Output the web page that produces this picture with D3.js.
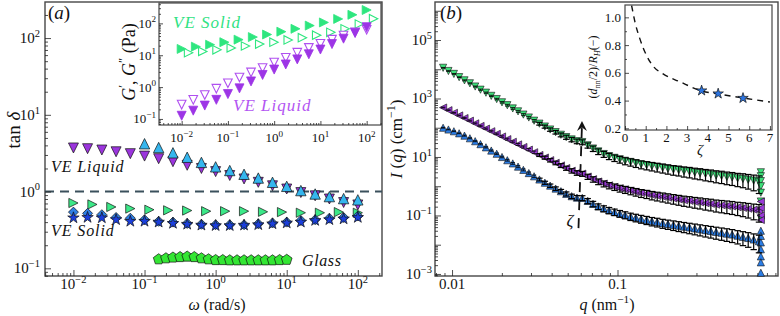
<!DOCTYPE html>
<html><head><meta charset="utf-8">
<script src="https://cdn.jsdelivr.net/npm/d3@7/dist/d3.min.js"></script>
<style>html,body{margin:0;background:#fff}svg{display:block}svg text{font-family:"Liberation Serif","Times New Roman",serif !important;fill:#111}</style>
</head><body><svg id="c" width="780" height="316" font-family="Liberation Serif, serif"></svg>
<script>
// ---------------- Panel (a): tan delta vs omega ----------------
const omegaA=[0.01,0.0158,0.0251,0.0398,0.0631,0.1,0.158,0.251,0.398,0.631,1,1.58,2.51,3.98,6.31,10,15.8,25.1,39.8,63.1,100];
const tanLiquidPurple=[3.7,3.62,3.48,3.3,3.12,2.9,2.68,2.45,2.2,2.0,1.82,1.62,1.46,1.32,1.19,1.08,0.97,0.88,0.8,0.72,0.67];
const omegaCyan=[0.1,0.158,0.251,0.398,0.631,1,1.58,2.51,3.98,6.31,10,15.8,25.1,39.8,63.1,100];
const tanLiquidCyan=[4.2,3.75,3.2,2.8,2.4,2.1,1.88,1.68,1.5,1.32,1.17,1.03,0.93,0.86,0.81,0.78];
const omegaGreen=[0.01,0.0185,0.0341,0.0631,0.117,0.215,0.398,0.736,1.36,2.51,4.64,8.58,15.8,29.3,54.1,100];
const tanSolidGreen=[0.71,0.68,0.63,0.60,0.58,0.57,0.566,0.555,0.555,0.555,0.545,0.54,0.53,0.53,0.54,0.53];
const tanSolidDiamond=[0.54,0.52,0.50,0.46,0.45,0.43,0.41,0.40,0.385,0.375,0.37,0.37,0.37,0.38,0.39,0.40,0.42,0.43,0.45,0.46,0.48];
const tanSolidStar=[0.455,0.46,0.455,0.43,0.41,0.41,0.40,0.385,0.375,0.365,0.36,0.36,0.365,0.37,0.38,0.39,0.40,0.42,0.43,0.44,0.46];
const omegaGlass=[0.158,0.2,0.251,0.316,0.398,0.501,0.631,0.794,1,1.26,1.58,2,2.51,3.16,3.98,5.01,6.31,7.94,10];
const tanGlass=[0.131,0.135,0.138,0.140,0.142,0.140,0.135,0.131,0.128,0.128,0.127,0.127,0.127,0.127,0.127,0.127,0.127,0.128,0.129];

// ---------------- Inset (a): G', G'' ----------------
const omegaInLiquid=[0.01,0.0178,0.0316,0.0562,0.1,0.178,0.316,0.562,1,1.78,3.16,5.62,10,17.8,31.6,56.2,100];
const gppLiquid=[0.282,0.398,0.562,0.891,1.32,2.0,2.88,3.98,5.89,8.32,12.0,17.0,22.9,30.9,41.7,52.5,63.1];
const gpLiquid=[0.126,0.182,0.263,0.398,0.603,0.912,1.51,2.40,3.55,5.13,7.41,10.7,15.1,22.4,33.1,50.1,75.9];
const omegaInSolid=[0.01,0.0203,0.0412,0.0838,0.170,0.346,0.702,1.43,2.89,5.88,11.9,24.2,49.2,100];
const gpSolid=[15.8,18.6,21.4,25.7,30.9,37.2,44.7,55.0,67.6,85.1,107,138,186,263];
const omegaInSolidOpen=[0.0141,0.0286,0.0581,0.118,0.240,0.487,0.990,2.01,4.08,8.29,16.8,34.2,69.5,141];
const gppSolid=[12.0,13.2,14.8,17.0,19.5,22.4,25.7,30.2,35.5,42.7,52.5,67.6,95.5,141];

// ---------------- Panel (b): SAXS I(q) ----------------
const qGrid=[0.00883,0.00951,0.01026,0.01104,0.01189,0.01282,0.01380,0.01486,0.01603,0.01726,0.01862,0.02004,0.02158,0.02328,0.02506,0.02698,0.02911,0.03133,0.03373,0.03639,0.03917,0.04227,0.04550,0.04898,0.05284,0.05689,0.06124,0.06607,0.07112,0.07656,0.08260,0.08892,0.09594,0.1033,0.1112,0.1200,0.1291,0.1390,0.1500,0.1614,0.1738,0.1875,0.2018,0.2178,0.2344,0.2523,0.2723,0.2931,0.3155,0.3404,0.3664,0.3945,0.4256,0.4581,0.4932,0.5321,0.5728,0.6166,0.6653,0.7161];
const iGreen=[11200,8710,6920,5370,4170,3310,2570,2000,1580,1230,955,741,589,457,363,282,224,174,138,110,87.1,70.8,57.5,47.9,39.8,34.7,32.4,25.1,19.5,15.5,12.6,10.7,9.33,8.32,7.41,6.76,6.17,5.62,5.25,4.90,4.57,4.27,3.98,3.72,3.55,3.31,3.16,2.95,2.82,2.63,2.51,2.34,2.24,2.09,2.00,1.86,1.78,1.66,1.55,1.41];
const iPurple=[490,398,324,263,214,174,141,115,93.3,75.9,61.7,50.1,40.7,33.1,26.9,21.9,17.8,14.5,11.7,9.55,7.76,6.31,5.13,4.17,3.39,2.88,2.69,2.14,1.74,1.45,1.23,1.07,0.955,0.851,0.776,0.708,0.646,0.589,0.550,0.501,0.468,0.437,0.407,0.380,0.355,0.331,0.316,0.295,0.282,0.263,0.251,0.234,0.224,0.214,0.204,0.191,0.182,0.170,0.158,0.148];
const iBlue=[100,87.1,75.9,64.6,53.7,43.7,34.7,27.5,21.4,16.6,12.9,10.0,7.76,6.03,4.68,3.63,2.82,2.19,1.70,1.32,1.05,0.832,0.676,0.550,0.457,0.407,0.398,0.316,0.251,0.204,0.174,0.151,0.132,0.117,0.105,0.0933,0.0851,0.0776,0.0708,0.0646,0.0603,0.0550,0.0513,0.0479,0.0447,0.0417,0.0389,0.0363,0.0339,0.0316,0.0295,0.0275,0.0257,0.0240,0.0224,0.0204,0.0186,0.0170,0.0151,0.0132];
const relErr=[0.03,0.03,0.03,0.03,0.04,0.04,0.04,0.05,0.05,0.05,0.06,0.06,0.07,0.07,0.08,0.08,0.09,0.10,0.11,0.12,0.13,0.14,0.15,0.16,0.17,0.18,0.19,0.20,0.21,0.22,0.23,0.24,0.25,0.26,0.27,0.28,0.29,0.30,0.31,0.32,0.33,0.34,0.35,0.36,0.37,0.38,0.39,0.40,0.41,0.42,0.43,0.44,0.45,0.46,0.47,0.48,0.50,0.52,0.55,0.60];
const qEnd=0.735;
const iGreenEnd=[3.0,2.2,1.5,1.0,0.6,0.3,0.08];
const iPurpleEnd=[0.3,0.18,0.1,0.07];
const iBlueEnd=[0.03,0.02,0.012,0.007,0.004,0.0025,0.0011];
const arrowQ=[0.0581,0.0610];
const arrowI=[0.037,170];

// ---------------- Inset (b) ----------------
const zetaCurve=[0.32,0.48,0.72,1.05,1.35,1.84,2.66,3.7,4.49,5.7,7.0];
const ratioCurve=[1.085,0.967,0.845,0.722,0.65,0.592,0.535,0.47,0.448,0.419,0.39];
const zetaPts=[3.7,4.5,5.7];
const ratioPts=[0.472,0.450,0.418];

// ================= drawing =================
const svg=d3.select("#c");
svg.append("rect").attr("width",780).attr("height",316).attr("fill","#fff");

function logTickVals(d){
  const maj=[],min=[];
  const a=Math.floor(Math.log10(d[0])),b=Math.ceil(Math.log10(d[1]));
  for(let e=a;e<=b;e++)for(let m=1;m<10;m++){const v=m*Math.pow(10,e);if(v>=d[0]*0.999&&v<=d[1]*1.001)(m===1?maj:min).push(v);}
  return {maj,min};
}
function rich(sel,fs,parts){
  let cur=0;
  parts.forEach(p=>{
    const off=p.sup?-0.42*fs:p.sub?0.28*fs:0;
    const t=sel.append("tspan").attr("dy",off-cur).text(p.t);
    if(p.sup||p.sub)t.attr("font-size",fs*0.7);
    if(p.i)t.attr("font-style","italic");
    cur=off;
  });
}
const tri=(dir,s)=>{
  if(dir==="up")return `M0,${-s}L${s},${s}L${-s},${s}Z`;
  if(dir==="down")return `M0,${s}L${s},${-s}L${-s},${-s}Z`;
  if(dir==="right")return `M${s},0L${-s},${s}L${-s},${-s}Z`;
  return `M${-s},0L${s},${s}L${s},${-s}Z`;
};
const diamond=s=>`M0,${-s}L${s},0L0,${s}L${-s},0Z`;
const star=R=>{let p="";for(let k=0;k<10;k++){const r=k%2?R*0.382:R;const a=-Math.PI/2+k*Math.PI/5;p+=(k?"L":"M")+(r*Math.cos(a)).toFixed(2)+","+(r*Math.sin(a)).toFixed(2);}return p+"Z";};
const pent=R=>{let p="";for(let k=0;k<5;k++){const a=-Math.PI/2+k*2*Math.PI/5;p+=(k?"L":"M")+(R*Math.cos(a)).toFixed(2)+","+(R*Math.sin(a)).toFixed(2);}return p+"Z";};

function scatter(g,xs,ys,sx,sy,path,fill,stroke,sw){
  g.append("g").selectAll("path").data(xs.map((x,i)=>[x,ys[i]])).join("path")
   .attr("d",path).attr("transform",d=>`translate(${sx(d[0])},${sy(d[1])})`)
   .attr("fill",fill).attr("stroke",stroke).attr("stroke-width",sw).attr("stroke-linejoin","miter");
}
function frame(g,sx,sy,fill,sw){
  const [x0,x1]=sx.range(),[y1,y0]=sy.range();
  g.append("rect").attr("x",x0).attr("y",y0).attr("width",x1-x0).attr("height",y1-y0)
   .attr("fill",fill||"none").attr("stroke","#474747").attr("stroke-width",sw||1.4);
}
function axisTicks(g,scale,orient,pos,vals,len){
  const ax=orient==="left"?d3.axisLeft(scale):d3.axisBottom(scale);
  const gg=g.append("g").attr("transform",orient==="left"?`translate(${pos},0)`:`translate(0,${pos})`)
    .call(ax.tickValues(vals).tickSize(-len).tickFormat(""));
  gg.select(".domain").remove();
  gg.selectAll(".tick line").attr("stroke","#222").attr("stroke-width",0.8);
}
function powLabel(g,x,y,exp,fs,anchor){
  const t=g.append("text").attr("x",x).attr("y",y).attr("font-size",fs).attr("text-anchor",anchor);
  rich(t,fs,[{t:"10"},{t:(exp<0?"\u2212":"")+Math.abs(exp),sup:true}]);
}

// ---- Panel (a)
const gA=svg.append("g");
const xA=d3.scaleLog().domain([10**-2.4,10**2.34]).range([45,382]);
const yA=d3.scaleLog().domain([10**-1.1,10**2.47]).range([276,2]);
frame(gA,xA,yA,"#fff");
gA.append("line").attr("x1",xA.range()[0]).attr("x2",xA.range()[1]).attr("y1",yA(1)).attr("y2",yA(1))
  .attr("stroke","#3b505c").attr("stroke-width",2).attr("stroke-dasharray","9,6");
scatter(gA,omegaA,tanLiquidPurple,xA,yA,tri("down",5),"#9b35dd","#111",0.7);
scatter(gA,omegaCyan,tanLiquidCyan,xA,yA,tri("up",5.2),"#35b6ee","#111",0.7);
scatter(gA,omegaGreen,tanSolidGreen,xA,yA,tri("right",4.6),"#3ce888","#111",0.7);
scatter(gA,omegaA,tanSolidDiamond,xA,yA,diamond(5),"#2f80e6","#111",0.7);
scatter(gA,omegaA,tanSolidStar,xA,yA,star(6),"#1b3fdc","#111",0.7);
scatter(gA,omegaGlass,tanGlass,xA,yA,pent(5.6),"#33e633","#111",0.7);
let tv=logTickVals(xA.domain());
axisTicks(gA,xA,"bottom",yA.range()[0],tv.min,3);
axisTicks(gA,xA,"bottom",yA.range()[0],tv.maj,6);
tv.maj.forEach(v=>powLabel(gA,xA(v),289,Math.round(Math.log10(v)),15,"middle"));
tv=logTickVals(yA.domain());
axisTicks(gA,yA,"left",xA.range()[0],tv.min,3);
axisTicks(gA,yA,"left",xA.range()[0],tv.maj,6);
tv.maj.forEach(v=>powLabel(gA,40,yA(v)+5,Math.round(Math.log10(v)),15,"end"));
// labels
let t=gA.append("text").attr("x",217).attr("y",310).attr("font-size",16).attr("text-anchor","middle");
rich(t,16,[{t:"\u03c9",i:true},{t:" (rad/s)"}]);
t=gA.append("text").attr("transform","translate(20,130) rotate(-90)").attr("font-size",19).attr("text-anchor","middle");
rich(t,19,[{t:"tan "},{t:"\u03b4",i:true}]);
t=gA.append("text").attr("x",48).attr("y",19).attr("font-size",19);
rich(t,19,[{t:"("},{t:"a",i:true},{t:")"}]);
gA.append("text").attr("x",51).attr("y",172).attr("font-size",16).attr("font-style","italic").attr("letter-spacing",0.9).text("VE Liquid");
gA.append("text").attr("x",51).attr("y",236).attr("font-size",16).attr("font-style","italic").attr("letter-spacing",0.9).text("VE Solid");
gA.append("text").attr("x",302).attr("y",266).attr("font-size",16).attr("font-style","italic").attr("letter-spacing",0.6).text("Glass");

// ---- Inset (a)
const gI=svg.append("g");
const xI=d3.scaleLog().domain([10**-2.49,10**2.31]).range([159,381]);
const yI=d3.scaleLog().domain([10**-1.19,10**2.64]).range([125,3]);
frame(gI,xI,yI,"#fff",1.2);
scatter(gI,omegaInSolid,gpSolid,xI,yI,tri("right",4.5),"#2ee67f","#2ee67f",0.8);
scatter(gI,omegaInSolidOpen,gppSolid,xI,yI,tri("right",4.2),"#fff","#2ee67f",1.1);
scatter(gI,omegaInLiquid,gppLiquid,xI,yI,tri("down",4.3),"#fff","#b050f0",1.1);
scatter(gI,omegaInLiquid,gpLiquid,xI,yI,tri("down",4.5),"#9d35e6","#9d35e6",0.8);
tv=logTickVals(xI.domain());
axisTicks(gI,xI,"bottom",yI.range()[0],tv.min,2);
axisTicks(gI,xI,"bottom",yI.range()[0],tv.maj,4);
tv.maj.forEach(v=>powLabel(gI,xI(v),142,Math.round(Math.log10(v)),13,"middle"));
tv=logTickVals(yI.domain());
axisTicks(gI,yI,"left",xI.range()[0],tv.min,2);
axisTicks(gI,yI,"left",xI.range()[0],tv.maj,4);
tv.maj.forEach(v=>powLabel(gI,156,yI(v)+4.5,Math.round(Math.log10(v)),13,"end"));
t=gI.append("text").attr("transform","translate(135,62) rotate(-90)").attr("font-size",18).attr("text-anchor","middle");
rich(t,18,[{t:"G",i:true},{t:"\u2032",sup:true},{t:", "},{t:"G",i:true},{t:"\u2033",sup:true},{t:" (Pa)"}]);
gI.append("text").attr("x",173).attr("y",28).attr("font-size",17).attr("font-style","italic").attr("letter-spacing",1).style("fill","#30e283").text("VE Solid");
gI.append("text").attr("x",233).attr("y",111).attr("font-size",17).attr("font-style","italic").attr("letter-spacing",1).style("fill","#b355f2").text("VE Liquid");

// ---- Panel (b)
const gB=svg.append("g");
const xB=d3.scaleLog().domain([10**-2.103,10**-0.03]).range([435,778]);
const yB=d3.scaleLog().domain([10**-3.07,10**6.3]).range([276,2]);
frame(gB,xB,yB,"#fff");
gB.append("line").attr("x1",xB(arrowQ[0])).attr("y1",yB(arrowI[0])).attr("x2",xB(arrowQ[1])).attr("y2",yB(arrowI[1])+4)
  .attr("stroke","#111").attr("stroke-width",1.8).attr("stroke-dasharray","10,8");
{
  const ax=xB(arrowQ[1]),ay=yB(arrowI[1]);
  gB.append("path").attr("d",`M${ax},${ay}L${ax+5},${ay+10}L${ax},${ay+6.5}L${ax-5},${ay+10}Z`).attr("fill","#111");
}
function saxs(I,Iend,path,fill){
  const g=gB.append("g");
  scatter(g,qGrid,I,xB,yB,path,fill,"#111",0.6);
  scatter(g,Iend.map(()=>qEnd),Iend,xB,yB,path,fill,"#111",0.6);
  const eb=g.append("g").attr("stroke","#000");
  qGrid.forEach((q,i)=>{
    const x=xB(q),ylo=yB(I[i]*(1-relErr[i])),yhi=yB(I[i]*(1+relErr[i]));
    const w=i<18?0.8:1.2,c=i<18?2.2:3.2;
    eb.append("line").attr("stroke-width",w).attr("x1",x).attr("x2",x).attr("y1",ylo).attr("y2",yhi);
    eb.append("line").attr("stroke-width",w).attr("x1",x-c).attr("x2",x+c).attr("y1",ylo).attr("y2",ylo);
    eb.append("line").attr("stroke-width",w).attr("x1",x-c).attr("x2",x+c).attr("y1",yhi).attr("y2",yhi);
  });
}
saxs(iGreen,iGreenEnd,tri("down",3.6),"#3ee07a");
saxs(iPurple,iPurpleEnd,tri("left",3.6),"#9a3ad8");
saxs(iBlue,iBlueEnd,tri("up",3.6),"#2b7de6");
tv=logTickVals(xB.domain());
axisTicks(gB,xB,"bottom",yB.range()[0],tv.min,3);
axisTicks(gB,xB,"bottom",yB.range()[0],tv.maj,6);
tv.maj.forEach(v=>gB.append("text").attr("x",xB(v)).attr("y",289).attr("font-size",15).attr("text-anchor","middle").text(v===0.01?"0.01":"0.1"));
tv=logTickVals(yB.domain());
axisTicks(gB,yB,"left",xB.range()[0],tv.min,3);
axisTicks(gB,yB,"left",xB.range()[0],tv.maj,6);
tv.maj.forEach(v=>{const e=Math.round(Math.log10(v));if(Math.abs(e)%2===1)powLabel(gB,432,yB(v)+5,e,15,"end");});
t=gB.append("text").attr("x",607).attr("y",310).attr("font-size",16).attr("text-anchor","middle");
rich(t,16,[{t:"q",i:true},{t:" (nm"},{t:"\u22121",sup:true},{t:")"}]);
t=gB.append("text").attr("transform","translate(402,139) rotate(-90)").attr("font-size",17).attr("text-anchor","middle");
rich(t,17,[{t:"I",i:true},{t:" ("},{t:"q",i:true},{t:") (cm"},{t:"\u22121",sup:true},{t:")"}]);
t=gB.append("text").attr("x",440).attr("y",19).attr("font-size",19);
rich(t,19,[{t:"("},{t:"b",i:true},{t:")"}]);
gB.append("text").attr("x",570).attr("y",226).attr("font-size",17).attr("font-style","italic").attr("text-anchor","middle").text("\u03b6");

// ---- Inset (b)
const gC=svg.append("g");
const xC=d3.scaleLinear().domain([0,7.1]).range([625,772]);
const yC=d3.scaleLinear().domain([0.188,1.089]).range([130,5]);
frame(gC,xC,yC,"#fff",1.2);
axisTicks(gC,xC,"bottom",yC.range()[0],[0.5,1.5,2.5,3.5,4.5,5.5,6.5],2);
axisTicks(gC,xC,"bottom",yC.range()[0],[0,1,2,3,4,5,6,7],4);
[0,1,2,3,4,5,6,7].forEach(v=>gC.append("text").attr("x",xC(v)).attr("y",142).attr("font-size",13).attr("text-anchor","middle").text(v));
axisTicks(gC,yC,"left",xC.range()[0],[0.3,0.5,0.7,0.9],2);
axisTicks(gC,yC,"left",xC.range()[0],[0.2,0.4,0.6,0.8,1.0],4);
[0.2,0.4,0.6,0.8,1.0].forEach(v=>gC.append("text").attr("x",621).attr("y",yC(v)+4.5).attr("font-size",13).attr("text-anchor","end").text(v.toFixed(1)));
gC.append("path").datum(zetaCurve.map((z,i)=>[z,ratioCurve[i]]))
  .attr("d",d3.line().x(d=>xC(d[0])).y(d=>yC(d[1])).curve(d3.curveMonotoneX))
  .attr("fill","none").attr("stroke","#111").attr("stroke-width",1.4).attr("stroke-dasharray","6,5");
scatter(gC,zetaPts,ratioPts,xC,yC,star(5.5),"#2c74e0","#111",0.7);
gC.append("text").attr("x",700).attr("y",155).attr("font-size",15).attr("font-style","italic").attr("text-anchor","middle").text("\u03b6");
t=gC.append("text").attr("transform","translate(597,67) rotate(-90)").attr("font-size",12).attr("text-anchor","middle");
rich(t,12,[{t:"("},{t:"d",i:true},{t:"nn",sub:true},{t:"/2)/"},{t:"R",i:true},{t:"H",sub:true,i:true},{t:"(\u2212)"}]);
</script></body></html>
